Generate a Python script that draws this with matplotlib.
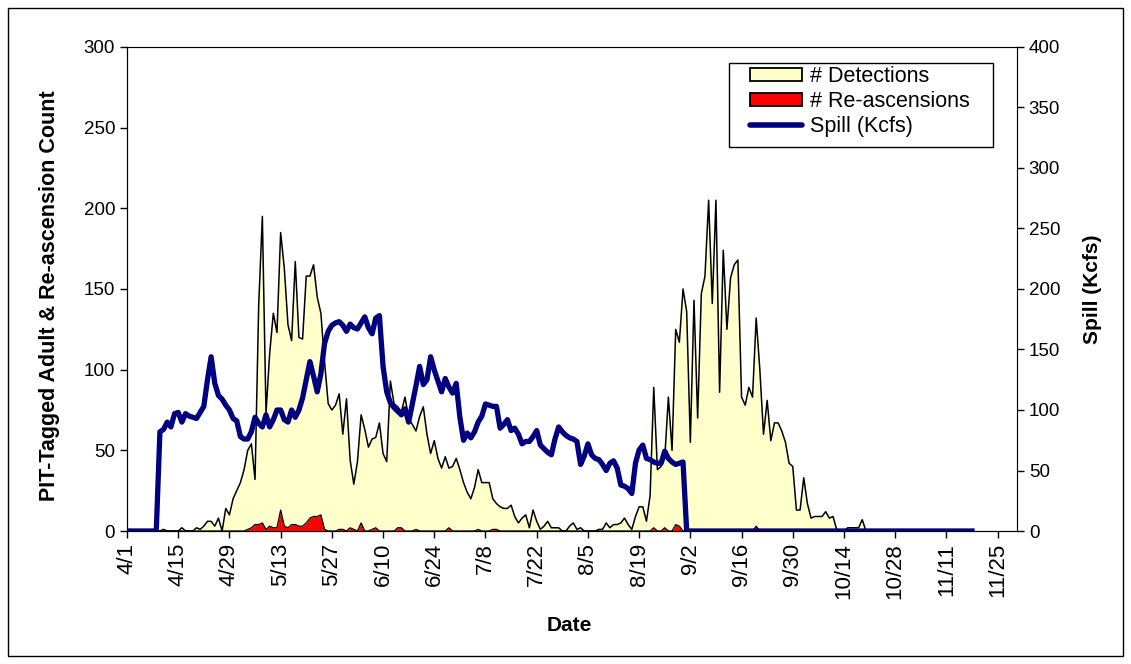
import numpy as np
import matplotlib
matplotlib.use('Agg')
import matplotlib.pyplot as plt
from matplotlib.patches import Patch, Rectangle
from matplotlib.lines import Line2D

plt.rcParams['font.family'] = ['Liberation Sans', 'DejaVu Sans']

# daily values, 4/1 .. 11/18
detections = [
    0, 0, 0, 0, 0, 0, 0, 0, 0, 0,
    1, 0, 0, 0, 0, 2, 0, 0, 0, 2,
    1, 3, 6, 6, 3, 8, 0, 14, 10, 20,
    25, 30, 38, 50, 54, 32, 140, 195, 73, 110,
    135, 123, 185, 163, 128, 118, 167, 120, 119, 158,
    158, 165, 145, 135, 105, 79, 75, 78, 85, 60,
    82, 44, 29, 43, 72, 63, 52, 57, 58, 67,
    48, 43, 93, 79, 77, 74, 83, 70, 66, 62,
    71, 77, 60, 48, 56, 45, 39, 46, 39, 40,
    45, 38, 30, 24, 20, 27, 38, 30, 30, 30,
    20, 17, 15, 14, 14, 16, 9, 5, 8, 10,
    2, 13, 6, 1, 3, 6, 2, 2, 2, 0,
    0, 3, 5, 1, 2, 0, 0, 0, 0, 1,
    1, 5, 2, 4, 4, 5, 8, 4, 1, 9,
    15, 15, 6, 22, 89, 38, 40, 45, 83, 50,
    125, 117, 150, 136, 55, 143, 70, 147, 158, 205,
    141, 205, 86, 174, 125, 157, 165, 168, 83, 78,
    89, 83, 132, 100, 60, 81, 56, 67, 67, 62,
    55, 42, 40, 13, 13, 33, 17, 8, 9, 9,
    9, 12, 8, 9, 1, 0, 0, 2, 2, 2,
    2, 7, 0, 0, 0, 0, 0, 0, 0, 0,
    0, 0, 0, 0, 0, 0, 0, 0, 0, 0,
    0, 0, 0, 0, 0, 0, 0, 0, 0, 0,
    0, 0,
]

reascensions = [
    0, 0, 0, 0, 0, 0, 0, 0, 0, 0,
    0, 0, 0, 0, 0, 0, 0, 0, 0, 0,
    0, 0, 0, 0, 0, 0, 0, 0, 0, 0,
    0, 0, 0, 1, 2, 4, 4, 5, 1, 3,
    2, 2, 13, 3, 2, 4, 4, 3, 3, 5,
    8, 9, 9, 10, 1, 0, 0, 0, 1, 1,
    0, 2, 1, 0, 5, 0, 0, 1, 2, 0,
    0, 0, 0, 0, 2, 2, 0, 0, 0, 1,
    0, 0, 0, 0, 0, 0, 0, 0, 2, 0,
    0, 0, 0, 0, 0, 0, 1, 0, 0, 0,
    1, 1, 0, 0, 0, 0, 0, 0, 0, 0,
    0, 0, 0, 0, 0, 0, 0, 0, 0, 0,
    0, 0, 0, 0, 0, 0, 0, 0, 0, 0,
    0, 0, 0, 0, 0, 0, 0, 0, 0, 0,
    0, 0, 0, 0, 2, 0, 0, 2, 0, 0,
    4, 3, 0, 0, 0, 0, 0, 0, 0, 0,
    1, 0, 0, 0, 0, 1, 0, 0, 0, 0,
    0, 0, 3, 0, 0, 0, 0, 0, 0, 0,
    0, 1, 0, 0, 0, 0, 0, 0, 0, 0,
    0, 0, 0, 0, 0, 0, 0, 0, 0, 0,
    0, 0, 0, 0, 0, 0, 0, 0, 0, 0,
    0, 0, 0, 0, 0, 0, 0, 0, 0, 0,
    0, 0, 0, 0, 0, 0, 0, 0, 0, 0,
    0, 0,
]

spill = [
    0, 0, 0, 0, 0, 0, 0, 0, 0, 82,
    84, 90, 86, 97, 98, 90, 97, 95, 94, 93,
    98, 103, 125, 144, 122, 112, 109, 104, 100, 93,
    91, 78, 76, 76, 82, 94, 89, 86, 96, 86,
    92, 100, 100, 92, 90, 100, 94, 100, 110, 125,
    140, 128, 115, 130, 155, 165, 170, 172, 173, 170,
    165, 171, 168, 167, 172, 177, 168, 163, 176, 178,
    136, 115, 106, 102, 99, 96, 101, 90, 105, 120,
    136, 121, 125, 144, 133, 124, 115, 126, 119, 114,
    122, 94, 75, 81, 77, 82, 90, 95, 105, 104,
    103, 103, 85, 88, 92, 83, 85, 80, 72, 74,
    74, 78, 83, 71, 68, 65, 63, 76, 86, 82,
    79, 77, 76, 74, 55, 62, 72, 63, 60, 59,
    55, 50, 56, 58, 52, 38, 37, 35, 31, 56,
    67, 71, 60, 59, 57, 56, 56, 66, 60, 57,
    55, 56, 57, 0, 0, 0, 0, 0, 0, 0,
    0, 0, 0, 0, 0, 0, 0, 0, 0, 0,
    0, 0, 0, 0, 0, 0, 0, 0, 0, 0,
    0, 0, 0, 0, 0, 0, 0, 0, 0, 0,
    0, 0, 0, 0, 0, 0, 0, 0, 0, 0,
    0, 0, 0, 0, 0, 0, 0, 0, 0, 0,
    0, 0, 0, 0, 0, 0, 0, 0, 0, 0,
    0, 0, 0, 0, 0, 0, 0, 0, 0, 0,
    0, 0,
]

tick_labels = ['4/1', '4/15', '4/29', '5/13', '5/27', '6/10', '6/24', '7/8',
               '7/22', '8/5', '8/19', '9/2', '9/16', '9/30', '10/14',
               '10/28', '11/11', '11/25']

W, H = 1131, 664
days = np.arange(len(detections))

fig = plt.figure(figsize=(W / 100, H / 100), dpi=100)
ax = fig.add_axes([127 / W, 1 - 531 / H, 890 / W, 484 / H])

# detections area with black outline
ax.fill_between(days, detections, 0, color='#FFFFCC', lw=0, zorder=1)
ax.plot(days, detections, color='black', lw=1.1, zorder=2)

# re-ascensions area
ax.fill_between(days, reascensions, 0, color='#FF0000', lw=0, zorder=3)
ax.plot(days, reascensions, color='black', lw=0.9, zorder=4)

ax.set_xlim(0, 243.3)
ax.set_ylim(0, 300)
ax.set_yticks(range(0, 301, 50))
ax.set_xticks(np.arange(len(tick_labels)) * 14)
ax.set_xticklabels(tick_labels, rotation=90, fontsize=16)
ax.tick_params(axis='y', labelsize=13.5)
ax.tick_params(direction='out', length=5, width=1, colors='black')

for s in ax.spines.values():
    s.set_color('#808080')
ax.spines['left'].set_color('black')
ax.spines['bottom'].set_color('black')

ax.set_ylabel('PIT-Tagged Adult & Re-ascension Count', fontsize=15.5,
              fontweight='bold')
ax.yaxis.set_label_coords(-0.0755, 0.486)
ax.set_xlabel('Date', fontsize=15, fontweight='bold')
ax.xaxis.set_label_coords(0.497, -0.1756)

# spill on the right axis
ax2 = ax.twinx()
ax2.plot(days, spill, color='#000080', lw=3.8, solid_joinstyle='round', zorder=5)
ax2.set_ylim(0, 400)
ax2.set_yticks(range(0, 401, 50))
ax2.tick_params(direction='out', length=5, width=1, labelsize=13.5)
ax2.spines['right'].set_color('black')
ax2.set_ylabel('Spill (Kcfs)', fontsize=15, fontweight='bold')
ax2.yaxis.set_label_coords(1.0742, 0.5)

# legend: entries placed without frame, box drawn separately
box = Rectangle((729 / W, 1 - 147 / H), 264 / W, 84 / H,
                transform=fig.transFigure, facecolor='white',
                edgecolor='black', lw=1.0, zorder=8, clip_on=False)
ax2.add_patch(box)
handles = [Patch(facecolor='#FFFFCC', edgecolor='black', lw=1.3),
           Patch(facecolor='#FF0000', edgecolor='black', lw=1.3),
           Line2D([0], [0], color='#000080', lw=4, solid_capstyle='round')]
leg = ax2.legend(handles, ['# Detections', '# Re-ascensions', 'Spill (Kcfs)'],
                 loc='upper left', bbox_to_anchor=(750 / W, 1 - 66 / H),
                 bbox_transform=fig.transFigure,
                 fontsize=15.5, frameon=False,
                 handlelength=2.41, handleheight=0.51, handletextpad=0.39,
                 borderpad=0, labelspacing=0.19, borderaxespad=0)
leg.set_zorder(10)

# outer chart border
fig.patches.append(Rectangle((8 / W, 8 / H), 1115 / W, 648 / H,
                             transform=fig.transFigure, fill=False,
                             edgecolor='black', lw=1.0))

fig.savefig('out.png', dpi=100)
